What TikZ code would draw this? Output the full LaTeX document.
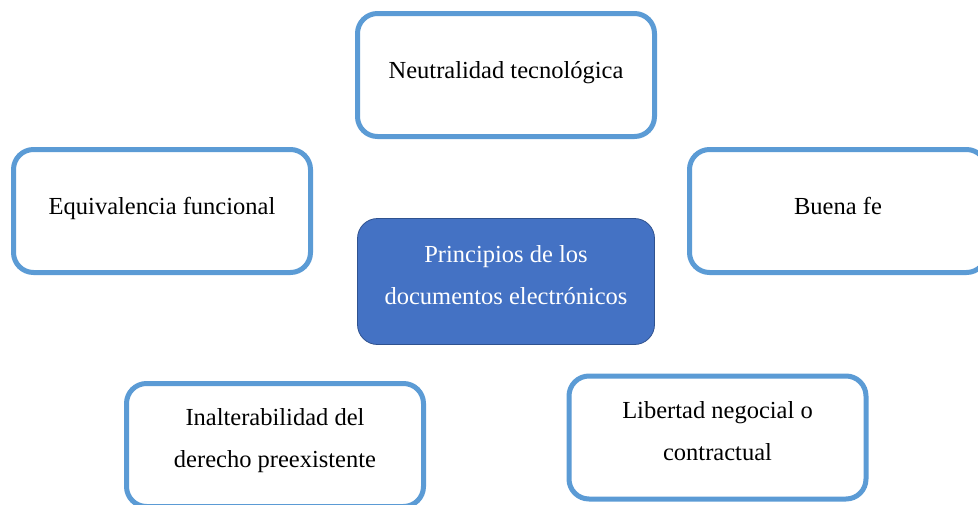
\documentclass[tikz,border=0pt]{standalone}
\usepackage{fontspec}
\setmainfont{Liberation Serif}
\usepackage{tikz}
\usepackage{color}
\usetikzlibrary{positioning}

\definecolor{boxline}{HTML}{5B9BD5}
\definecolor{hubfill}{HTML}{4472C4}
\definecolor{hubline}{HTML}{2F528F}

\begin{document}
\begin{tikzpicture}[x=1pt, y=-1pt,
  principle/.style={rounded corners=20pt, draw=boxline, line width=5pt, fill=white,
    minimum width=297pt, minimum height=123pt, inner sep=0pt, align=center,
    font=\fontsize{24.5}{42}\selectfont, text height=18pt, text depth=12pt},
  twoline/.style={text height=56pt, text depth=11pt},
  hub/.style={principle, fill=hubfill, draw=hubline, line width=0.8pt,
    minimum height=126pt, text=white}]

  \useasboundingbox (0,0) rectangle (978,504);
  \clip (0,0) rectangle (978,504);

  \node[hub, twoline] (princ) at (506,281.5) {Principios de los\\documentos electrónicos};

  \node[principle] (neutral) at (506,75) {Neutralidad tecnológica};
  \node[principle] (equiv) at (162,211) {Equivalencia funcional};
  \node[principle] (buena) at (838,211) {Buena fe};

  \node[principle, twoline] (inalter) at (275,445) {Inalterabilidad del\\derecho preexistente};
  \node[principle, twoline] (libertad) at (717.5,437.5) {Libertad negocial o\\contractual};
\end{tikzpicture}
\end{document}
